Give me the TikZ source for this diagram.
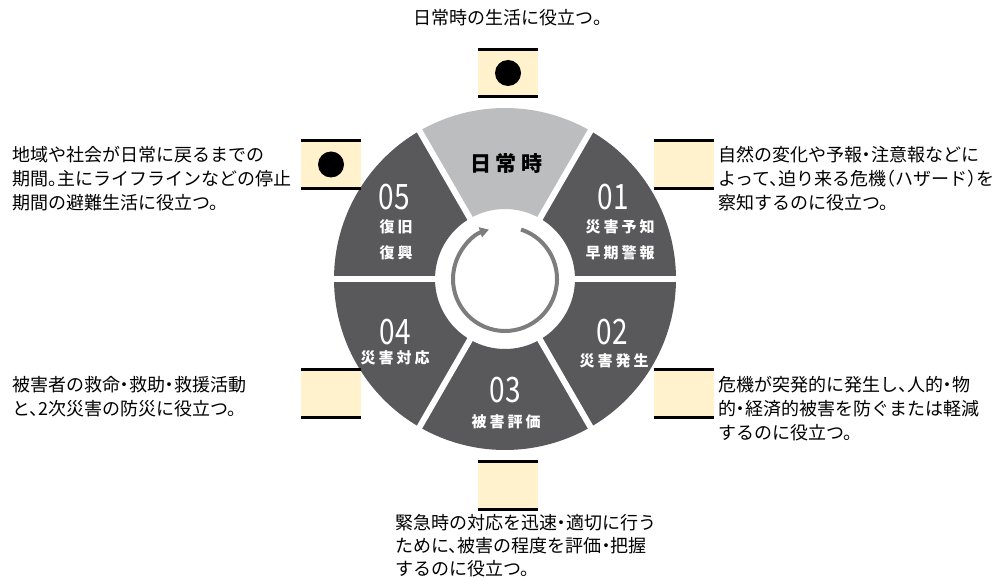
\documentclass[tikz,border=0pt]{standalone}
\usepackage{fontspec}
\usepackage{graphicx}
\setmainfont{Noto Sans CJK JP}
\newfontfamily\jp[RawFeature=+halt]{Noto Sans CJK JP}
\newfontfamily\jpnum{Noto Sans CJK JP}
\newfontfamily\jpls[LetterSpace=20]{Noto Sans CJK JP}
\usetikzlibrary{arrows.meta,calc}
\definecolor{segdark}{HTML}{59595B}
\definecolor{seglight}{HTML}{BCBDBF}
\definecolor{ringgray}{HTML}{7D7D7D}
\definecolor{cream}{HTML}{FFF2CC}
\begin{document}
\begin{tikzpicture}[x=1pt,y=1pt,
  txt/.style={inner sep=0pt, font=\jp\fontsize{18}{20}\selectfont, anchor=base west, text=black},
  num/.style={inner sep=0pt, text=white, font=\jpnum\fontsize{35}{35}\selectfont},
  lab/.style={inner sep=0pt, text=white, font=\jpls\bfseries\fontsize{15}{15}\selectfont},
  callbox/.style={minimum width=60pt, minimum height=47pt, fill=cream, inner sep=0pt, draw=none},
  dot/.style={circle, fill=black, minimum size=26pt, inner sep=0pt},
  ring/.style={draw=ringgray, line width=4pt}]
\useasboundingbox[fill=white] (0,0) rectangle (1003,579);
\coordinate (c) at (505,300);
% segments
\foreach \a in {0,180,240,300} {
  \fill[segdark] ($(c)+(\a:171)$) arc[start angle=\a, end angle=\a+60, radius=171]
    -- ($(c)+(\a+60:70)$) arc[start angle=\a+60, end angle=\a, radius=70] -- cycle;
}
\fill[segdark] ($(c)+(120:171)$) arc[start angle=120, end angle=180, radius=171]
    -- ($(c)+(180:70)$) arc[start angle=180, end angle=120, radius=70] -- cycle;
\fill[seglight] ($(c)+(60:171)$) arc[start angle=60, end angle=120, radius=171]
    -- ($(c)+(120:70)$) arc[start angle=120, end angle=60, radius=70] -- cycle;
\foreach \a in {0,60,...,300} {
  \draw[white, line width=6pt] ($(c)+(\a:64)$) -- ($(c)+(\a:176)$);
}
% cycle arrow
\draw[ring, -{Triangle[length=9pt,width=10pt]}] ($(c)+(72:52)$) arc[start angle=72, end angle=-252, radius=52];
% segment labels
\node[inner sep=0pt, text=black, font=\jpls\bfseries\fontsize{21}{21}\selectfont] (s0) at (506.5,415) {日常時};
\node[num] (n1) at (613,382) {\scalebox{0.8}[1]{01}};
\node[lab] (l1a) at (620,352) {災害予知};
\node[lab] (l1b) at (620,326) {早期警報};
\node[num] (n2) at (612,247) {\scalebox{0.8}[1]{02}};
\node[lab] (l2) at (614,218) {災害発生};
\node[num] (n3) at (505,189) {\scalebox{0.8}[1]{03}};
\node[lab] (l3) at (506,157) {被害評価};
\node[num] (n4) at (395,247) {\scalebox{0.8}[1]{04}};
\node[lab] (l4) at (395,221) {災害対応};
\node[num] (n5) at (394,382) {\scalebox{0.8}[1]{05}};
\node[lab] (l5a) at (396,352) {復旧};
\node[lab] (l5b) at (396,326) {復興};
% callout boxes
\node[callbox] (b0) at (508,506) {};
\node[callbox] (b1) at (684,414.5) {};
\node[callbox] (b2) at (684,185.5) {};
\node[callbox] (b3) at (508,93.5) {};
\node[callbox] (b4) at (331,185.5) {};
\node[callbox] (b5) at (331,414.5) {};
\foreach \b in {b0,b1,b2,b3,b4,b5} {
  \draw[line width=3pt] (\b.north west) -- (\b.north east);
  \draw[line width=3pt] (\b.south west) -- (\b.south east);
}
\node[dot] (d0) at (b0) {};
\node[dot] (d5) at (b5) {};
% texts
\node[txt, anchor=base] (t0) at (508,554.7) {日常時の生活に役立つ。};
\node[txt] (t5a) at (12,417.5) {地域や社会が日常に戻るまでの};
\node[txt] (t5b) at (12,393.5) {期間。主にライフラインなどの停止};
\node[txt] (t5c) at (12,369.5) {期間の避難生活に役立つ。};
\node[txt] (t1a) at (718,417.5) {自然の変化や予報・注意報などに};
\node[txt] (t1b) at (718,393.5) {よって、迫り来る危機（ハザード）を};
\node[txt] (t1c) at (718,369.5) {察知するのに役立つ。};
\node[txt] (t4a) at (12,188) {被害者の救命・救助・救援活動};
\node[txt] (t4b) at (12,164) {と、2次災害の防災に役立つ。};
\node[txt] (t2a) at (718,188) {危機が突発的に発生し、人的・物};
\node[txt] (t2b) at (718,164) {的・経済的被害を防ぐまたは軽減};
\node[txt] (t2c) at (718,140) {するのに役立つ。};
\node[txt] (t3a) at (395,49.7) {緊急時の対応を迅速・適切に行う};
\node[txt] (t3b) at (395,26.7) {ために、被害の程度を評価・把握};
\node[txt] (t3c) at (395,3.7) {するのに役立つ。};
\end{tikzpicture}
\end{document}
